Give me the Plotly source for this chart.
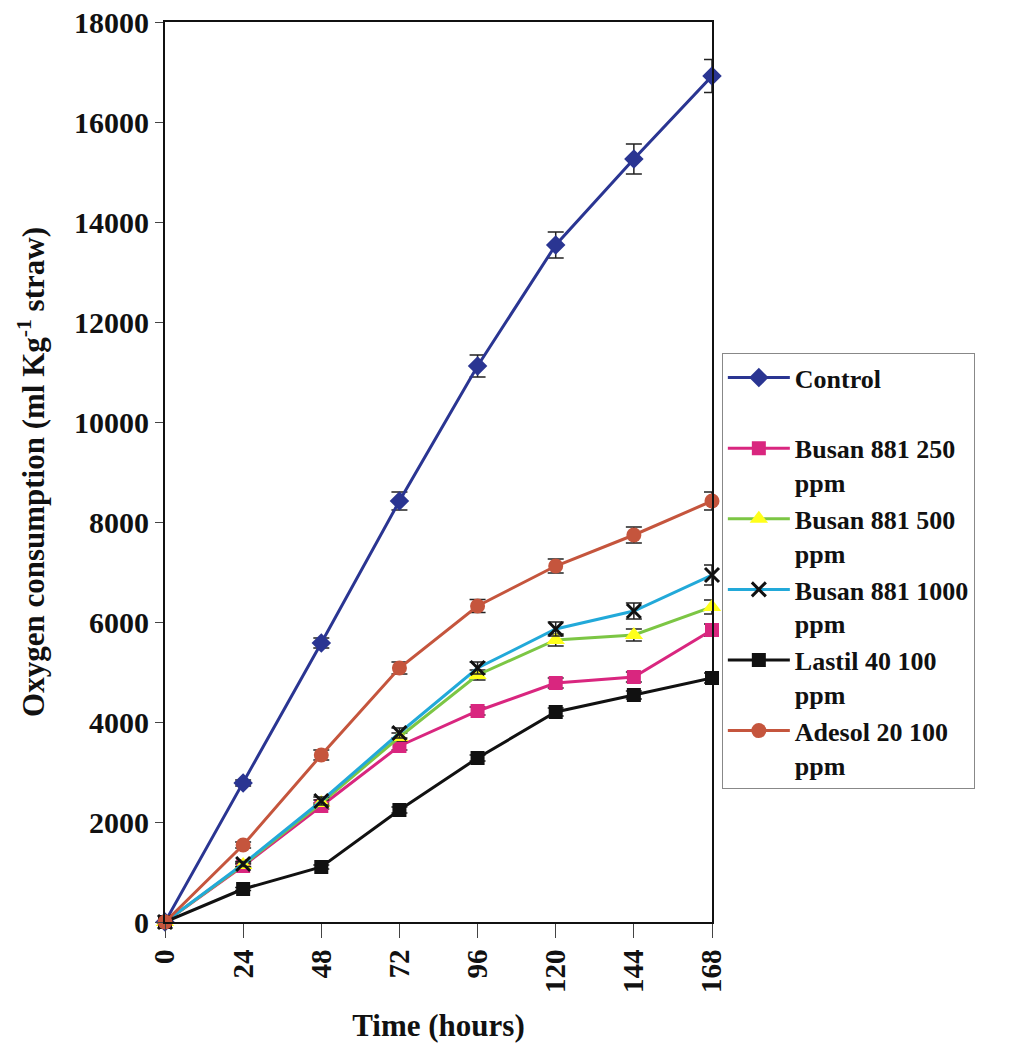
import plotly.graph_objects as go

hours = [0, 24, 48, 72, 96, 120, 144, 168]
x_ticks = [0, 24, 48, 72, 96, 120, 144, 168]

control = [0, 2780, 5580, 8420, 11120, 13540, 15260, 16920]
control_err = [0, 60, 100, 180, 220, 260, 300, 330]
busan250 = [0, 1120, 2320, 3520, 4220, 4780, 4900, 5840]
busan250_err = [0, 40, 60, 80, 80, 100, 100, 120]
busan500 = [0, 1140, 2380, 3700, 4940, 5640, 5740, 6300]
busan500_err = [0, 40, 60, 80, 100, 120, 120, 140]
busan1000 = [0, 1160, 2420, 3780, 5080, 5860, 6220, 6940]
busan1000_err = [0, 50, 80, 100, 120, 140, 160, 200]
lastil = [0, 660, 1100, 2240, 3280, 4200, 4540, 4880]
lastil_err = [0, 30, 40, 60, 60, 80, 80, 100]
adesol = [0, 1540, 3340, 5080, 6320, 7120, 7740, 8420]
adesol_err = [0, 60, 100, 120, 130, 140, 160, 180]

names = ["Control<br>&nbsp;", "Busan 881 250<br>ppm", "Busan 881 500<br>ppm",
         "Busan 881 1000<br>ppm", "Lastil 40 100<br>ppm", "Adesol 20 100<br>ppm"]

series = [
    (control, control_err, "#2a3592", "diamond", "#2a3592", 15),
    (busan250, busan250_err, "#d9267f", "square", "#d9267f", 14),
    (busan500, busan500_err, "#7cc644", "triangle-up", "#ffff1a", 16),
    (busan1000, busan1000_err, "#22a9d9", "x-thin", "#111111", 14),
    (lastil, lastil_err, "#111111", "square", "#111111", 14),
    (adesol, adesol_err, "#c5553d", "circle", "#c5553d", 15),
]

fig = go.Figure()
for (vals, errs, lc, sym, mc, ms), nm in zip(series, names):
    fig.add_trace(go.Scatter(
        x=hours, y=vals, name=nm, mode="lines+markers",
        line=dict(color=lc, width=3),
        marker=dict(symbol=sym, color=mc, size=ms,
                    line=dict(color=mc, width=3 if sym == "x-thin" else 0)),
        error_y=dict(type="data", array=errs, color="#222222", thickness=1.5, width=8),
        cliponaxis=False,
    ))

font_family = "Liberation Serif, Times New Roman, serif"

fig.update_layout(
    width=1025, height=1052,
    margin=dict(l=165, r=313, t=22, b=130, autoexpand=False),
    paper_bgcolor="white", plot_bgcolor="white",
    font=dict(family=font_family, color="#111111"),
    showlegend=True,
    legend=dict(
        x=1.018, y=0.632, xanchor="left", yanchor="top",
        font=dict(size=26, family=font_family, color="#111111", weight="bold"),
        bordercolor="#888888", borderwidth=1, bgcolor="white",
        valign="top", itemwidth=62, tracegroupgap=0,
    ),
    xaxis=dict(
        range=[0, 168], tickmode="array", tickvals=x_ticks,
        ticktext=[str(v) for v in x_ticks], automargin=False,
        tickangle=-90, ticks="outside", ticklen=14, tickcolor="#444444",
        showline=True, linecolor="#111111", linewidth=2, mirror=True,
        showgrid=False, zeroline=False,
        tickfont=dict(size=29, family=font_family, weight="bold"),
        title=dict(text="Time (hours)", font=dict(size=31, family=font_family, weight="bold"), standoff=22),
    ),
    yaxis=dict(
        range=[0, 18000], dtick=2000, tickformat="d", ticks="outside", ticklen=8, tickcolor="#444444",
        showline=True, linecolor="#111111", linewidth=2, mirror=True, automargin=False,
        showgrid=False, zeroline=False,
        tickfont=dict(size=30, family=font_family, weight="bold"),
        title=dict(text="Oxygen consumption (ml Kg<sup>-1</sup> straw)",
                   font=dict(size=31, family=font_family, weight="bold"), standoff=20),
    ),
)

fig.write_html("out.html")
